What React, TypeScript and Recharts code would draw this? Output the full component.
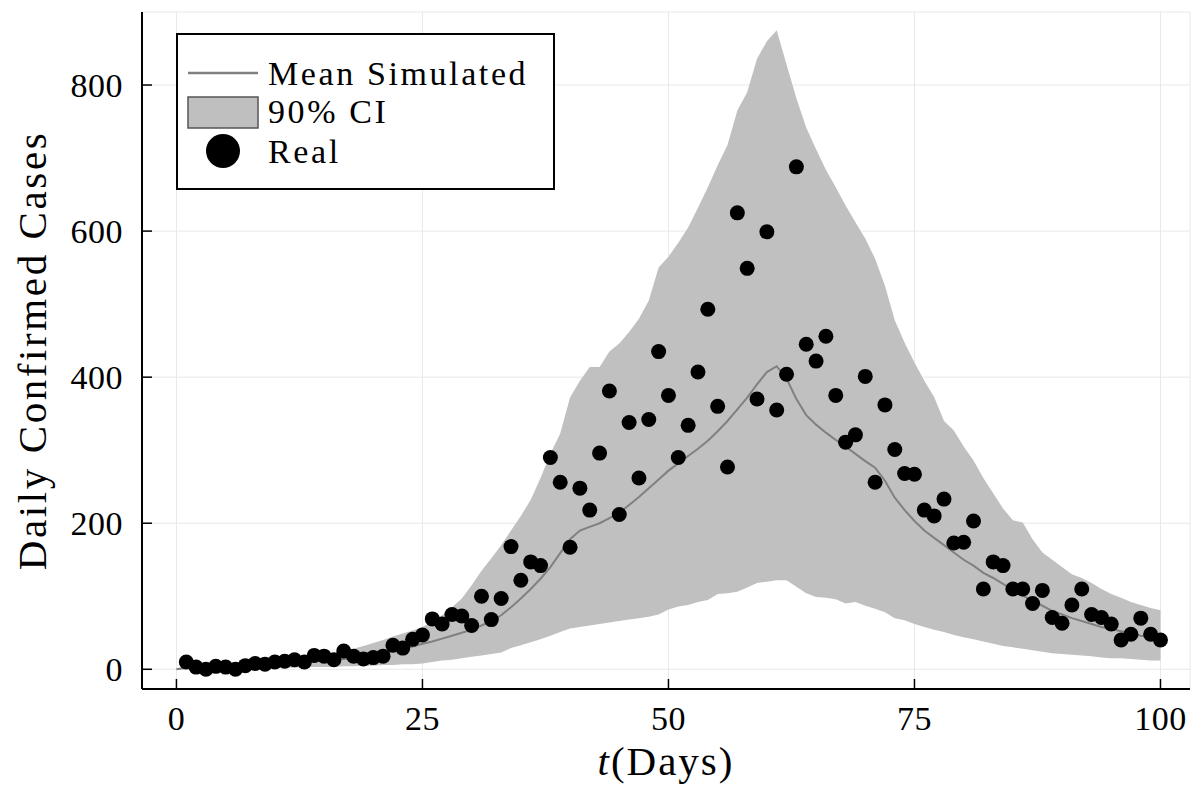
import React from 'react';
import { ComposedChart, Area, Line, Scatter, XAxis, YAxis, CartesianGrid, Label } from 'recharts';

const FONT = '"Liberation Serif", "DejaVu Serif", serif';

// day index 0..100
const days = Array.from({ length: 101 }, (_, i) => i);

const meanSimulated = [
  0, 2, 2, 3, 3, 4, 4, 5, 5, 6, 7,
  8, 9, 10, 11, 12, 12, 14, 16, 18, 20,
  22, 25, 28, 31, 35, 38, 42, 46, 50, 54,
  60, 66, 74, 85, 97, 110, 124, 140, 159, 178,
  190, 195, 200, 207, 214, 225, 236, 248, 260, 272,
  282, 292, 302, 313, 326, 340, 356, 372, 390, 407,
  415, 398, 370, 348, 335, 324, 314, 305, 295, 285,
  276, 258, 235, 218, 203, 190, 180, 170, 160, 150,
  142, 132, 125, 117, 109, 101, 94, 87, 80, 75,
  70, 66, 62, 58, 55, 52, 49, 46, 44, 42,
];

const ciUpper = [
  1, 4, 5, 6, 6, 7, 8, 8, 9, 10, 11,
  12, 13, 15, 17, 19, 22, 25, 28, 32, 36,
  40, 45, 49, 53, 58, 65, 74, 85, 97, 115,
  135, 152, 170, 190, 210, 232, 262, 295, 323, 372,
  395, 414, 414, 435, 446, 462, 480, 505, 550, 565,
  584, 605, 632, 660, 690, 718, 765, 790, 836, 860,
  875, 828, 782, 742, 712, 684, 660, 635, 612, 590,
  562, 525, 478, 447, 420, 395, 373, 340, 327, 305,
  286, 262, 241, 220, 204, 201, 178, 160, 150, 140,
  130, 125, 118, 110, 103, 98, 92, 88, 84, 81,
];

const ciLower = [
  0, 0, 0, 0, 1, 1, 1, 1, 1, 2, 2,
  2, 2, 3, 3, 3, 3, 4, 4, 5, 5,
  6, 6, 7, 7, 8, 10, 12, 13, 15, 17,
  19, 21, 23, 29, 33, 37, 41, 46, 51, 56,
  58, 60, 62, 64, 66, 68, 70, 72, 75, 82,
  86, 88, 92, 95, 103, 104, 106, 112, 118, 120,
  122, 122, 113, 104, 99, 98, 96, 90, 92, 87,
  83, 78, 70, 67, 62, 58, 54, 51, 47, 44,
  41, 38, 35, 32, 30, 28, 26, 24, 22, 21,
  20, 19, 18, 16, 15, 15, 14, 13, 12, 12,
];

// real observations, days 1..100
const realCases = [
  10, 3, 0, 4, 3, 0, 5, 8, 7, 10,
  11, 13, 10, 19, 18, 13, 25, 18, 14, 16,
  18, 33, 29, 41, 47, 69, 62, 75, 73, 60,
  100, 68, 97, 168, 122, 147, 142, 290, 256, 167,
  248, 218, 296, 381, 212, 338, 262, 342, 435, 375,
  290, 334, 407, 493, 360, 277, 625, 549, 370, 599,
  355, 404, 688, 445, 422, 456, 375, 311, 321, 401,
  256, 362, 301, 268, 267, 218, 210, 233, 173, 174,
  203, 110, 147, 142, 110, 110, 90, 108, 71, 63,
  88, 110, 75, 71, 62, 40, 48, 70, 48, 40,
];

const xTicks = [0, 25, 50, 75, 100];
const yTicks = [0, 200, 400, 600, 800];

const rows = days.map((d, i) => ({
  day: d,
  mean: meanSimulated[i],
  ci: [ciLower[i], ciUpper[i]],
}));

const realRows = realCases.map((v, i) => ({ day: i + 1, real: v }));

const XTick = (props: any) => {
  const { x, y, payload } = props;
  return (
    <g>
      <line x1={x} x2={x} y1={y} y2={y - 10} stroke="#000" strokeWidth={1.5} />
      <text x={x} y={y + 41} textAnchor="middle" fontFamily={FONT} fontSize={34} letterSpacing={0.5} fill="#000">
        {payload.value}
      </text>
    </g>
  );
};

const YTick = (props: any) => {
  const { x, y, payload } = props;
  return (
    <g>
      <line x1={x} x2={x + 10} y1={y} y2={y} stroke="#000" strokeWidth={1.5} />
      <text x={x - 19} y={y} textAnchor="end" dominantBaseline="central" fontFamily={FONT} fontSize={34} letterSpacing={0.5} fill="#000">
        {payload.value}
      </text>
    </g>
  );
};

const Dot = (p: any) => <circle cx={p.cx} cy={p.cy} r={7.5} fill="#000" />;

const LegendBox = () => (
  <svg width={380} height={158} style={{ position: 'absolute', left: 176, top: 33 }}>
    <rect x={1} y={1} width={377} height={155} fill="#fff" stroke="#000" strokeWidth={2} />
    <line x1={12} x2={82} y1={40} y2={40} stroke="#808080" strokeWidth={2.5} />
    <rect x={12} y={64} width={70} height={31} fill="#bfbfbf" stroke="#555" strokeWidth={1.5} />
    <circle cx={47} cy={118} r={17} fill="#000" />
    <g fontFamily={FONT} fontSize={34} fill="#000" letterSpacing={2.6}>
      <text x={92} y={52}>Mean Simulated</text>
      <text x={92} y={90}>90% CI</text>
      <text x={92} y={130}>Real</text>
    </g>
  </svg>
);

export default function App() {
  return (
    <div style={{ position: 'absolute', left: 0, top: 0, width: 1192, height: 789, background: '#fff' }}>
      <ComposedChart width={1192} height={789} data={rows} margin={{ top: 12, right: 2, bottom: 0, left: 0 }}>
        <CartesianGrid stroke="#e8e8e8" strokeWidth={1} />
        <XAxis
          dataKey="day"
          type="number"
          domain={[-3.5, 103]}
          ticks={xTicks}
          allowDataOverflow
          height={100}
          axisLine={{ stroke: '#000', strokeWidth: 2 }}
          tickLine={false}
          tickSize={0}
          tickMargin={0}
          tick={XTick}
        >
          <Label
            content={(p: any) => (
              <text
                x={p.viewBox.x + p.viewBox.width / 2}
                y={p.viewBox.y + 86}
                textAnchor="middle"
                fontFamily={FONT}
                fontSize={41}
                letterSpacing={2}
                fill="#000"
              >
                <tspan fontStyle="italic">t</tspan>(Days)
              </text>
            )}
          />
        </XAxis>
        <YAxis
          type="number"
          domain={[-27, 900]}
          ticks={yTicks}
          allowDataOverflow
          width={142}
          axisLine={{ stroke: '#000', strokeWidth: 2 }}
          tickLine={false}
          tickSize={0}
          tickMargin={0}
          tick={YTick}
        >
          <Label
            content={(p: any) => (
              <text
                x={46}
                y={p.viewBox.y + p.viewBox.height / 2}
                transform={`rotate(-90 46 ${p.viewBox.y + p.viewBox.height / 2})`}
                textAnchor="middle"
                fontFamily={FONT}
                fontSize={41}
                letterSpacing={2.6}
                fill="#000"
              >
                Daily Confirmed Cases
              </text>
            )}
          />
        </YAxis>
        <Area
          type="linear"
          dataKey="ci"
          stroke="none"
          fill="#c0c0c0"
          fillOpacity={1}
          isAnimationActive={false}
        />
        <Line
          type="linear"
          dataKey="mean"
          stroke="#808080"
          strokeWidth={2}
          dot={false}
          isAnimationActive={false}
        />
        <Scatter data={realRows} dataKey="real" shape={Dot} isAnimationActive={false} />
      </ComposedChart>
      <LegendBox />
    </div>
  );
}
